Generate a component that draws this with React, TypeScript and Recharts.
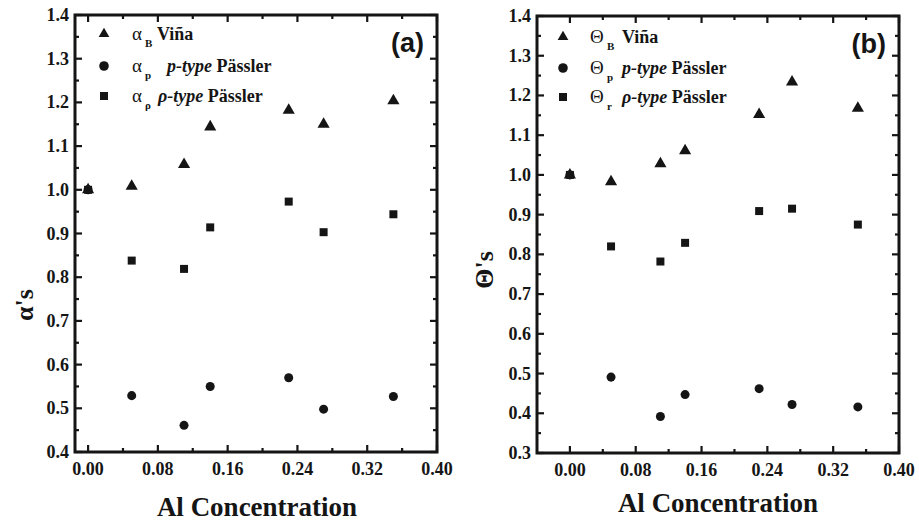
import React from 'react';
import { ScatterChart, Scatter, XAxis, YAxis, ReferenceArea, Legend, Symbols } from 'recharts';

// Al concentration (x)
const alConc = [0, 0.05, 0.11, 0.14, 0.23, 0.27, 0.35];

// panel (a): alpha's
const alphaB = [1.0, 1.008, 1.058, 1.144, 1.182, 1.15, 1.204];
const alphaP = [1.0, 0.529, 0.461, 0.55, 0.57, 0.498, 0.527];
const alphaRho = [1.0, 0.838, 0.819, 0.914, 0.973, 0.903, 0.944];

// panel (b): Theta's
const thetaB = [1.0, 0.983, 1.028, 1.061, 1.152, 1.234, 1.168];
const thetaP = [1.0, 0.491, 0.392, 0.447, 0.462, 0.422, 0.416];
const thetaR = [1.0, 0.82, 0.782, 0.829, 0.909, 0.915, 0.875];

const xTicks = [0, 0.04, 0.08, 0.12, 0.16, 0.2, 0.24, 0.28, 0.32, 0.36, 0.4];
const xMajor = [0, 0.08, 0.16, 0.24, 0.32, 0.4];
const yTicksA = [0.4, 0.45, 0.5, 0.55, 0.6, 0.65, 0.7, 0.75, 0.8, 0.85, 0.9, 0.95, 1.0, 1.05, 1.1, 1.15, 1.2, 1.25, 1.3, 1.35, 1.4];
const yTicksB = [0.3, 0.35, 0.4, 0.45, 0.5, 0.55, 0.6, 0.65, 0.7, 0.75, 0.8, 0.85, 0.9, 0.95, 1.0, 1.05, 1.1, 1.15, 1.2, 1.25, 1.3, 1.35, 1.4];

const toPoints = (ys: number[]) => alConc.map((x, i) => ({ x, y: ys[i] }));

const SERIF = 'Liberation Serif';
const SANS = 'Liberation Sans';
const INK = '#151515';

const isMajorY = (v: number) => Math.abs(v * 10 - Math.round(v * 10)) < 1e-6;

type PanelProps = {
  width: number;
  height: number;
  margin: { top: number; right: number; bottom: number; left: number };
  xDomain: [number, number];
  yDomain: [number, number];
  yTicks: number[];
  series: { name: string; data: number[]; shape: 'triangle' | 'circle' | 'square'; size: number }[];
  sym: string;
  subs: string[];
  typeLabels: string[];
  legendX: { marker: number; sym: number; sub: number; text: number[] };
  legendRows: number[];
  tag: string;
  tagPos: [number, number];
  yTitle: string;
  yTitlePos: [number, number];
  xTitlePos: [number, number];
};

function Panel(p: PanelProps) {
  const plotRight = p.width - p.margin.right;
  const plotTop = p.margin.top;

  // inward ticks on left + mirrored on right
  const YTick = (props: any) => {
    const { x, y, payload } = props;
    const major = isMajorY(payload.value);
    const len = major ? 7 : 4;
    return (
      <g>
        <line x1={x} x2={x + len} y1={y} y2={y} stroke={INK} strokeWidth={2.2} />
        <line x1={plotRight - len} x2={plotRight} y1={y} y2={y} stroke={INK} strokeWidth={2.2} />
        {major && (
          <text x={x - 6} y={y} dy={6} textAnchor="end" fontFamily={SERIF} fontWeight="bold" fontSize={18} fill={INK}>
            {payload.value.toFixed(1)}
          </text>
        )}
      </g>
    );
  };

  // inward ticks on bottom + mirrored on top
  const XTick = (props: any) => {
    const { x, y, payload } = props;
    const major = xMajor.includes(payload.value);
    const len = major ? 7 : 4;
    return (
      <g>
        <line x1={x} x2={x} y1={y} y2={y - len} stroke={INK} strokeWidth={2.2} />
        <line x1={x} x2={x} y1={plotTop} y2={plotTop + len} stroke={INK} strokeWidth={2.2} />
        {major && (
          <text x={x} y={y + 23} textAnchor="middle" fontFamily={SERIF} fontWeight="bold" fontSize={18} fill={INK}>
            {payload.value.toFixed(2)}
          </text>
        )}
      </g>
    );
  };

  const legendContent = () => (
    <svg width={p.width} height={p.height} style={{ overflow: 'visible' }}>
      {p.series.map((s, i) => {
        const cy = p.legendRows[i];
        return (
          <g key={s.name}>
            <Symbols type={s.shape} size={s.size} cx={p.legendX.marker} cy={cy} fill={INK} />
            <text x={p.legendX.sym} y={cy + 6} fontFamily={SERIF} fontSize={19} fill={INK}>
              {p.sym}
            </text>
            <text x={p.legendX.sub} y={cy + 13} fontFamily={SERIF} fontWeight="bold" fontSize={11} fill={INK}>
              {p.subs[i]}
            </text>
            <text x={p.legendX.text[i]} y={cy + 6} fontFamily={SERIF} fontWeight="bold" fontSize={18} fill={INK}>
              {p.typeLabels[i] ? (
                <>
                  <tspan fontStyle="italic">{p.typeLabels[i]}</tspan>
                  <tspan> Pässler</tspan>
                </>
              ) : (
                'Viña'
              )}
            </text>
          </g>
        );
      })}
      <text x={p.tagPos[0]} y={p.tagPos[1]} textAnchor="end" fontFamily={SANS} fontWeight="bold" fontSize={27} fill={INK}>
        {p.tag}
      </text>
      <text
        x={p.yTitlePos[0]}
        y={p.yTitlePos[1]}
        transform={`rotate(-90 ${p.yTitlePos[0]} ${p.yTitlePos[1]})`}
        textAnchor="middle"
        dy={9}
        fontFamily={SERIF}
        fontWeight="bold"
        fontSize={26}
        fill={INK}
      >
        {p.yTitle}
      </text>
      <text x={p.xTitlePos[0]} y={p.xTitlePos[1]} textAnchor="middle" fontFamily={SERIF} fontWeight="bold" fontSize={27} fill={INK}>
        Al Concentration
      </text>
    </svg>
  );

  return (
    <ScatterChart width={p.width} height={p.height} margin={p.margin}>
      <XAxis
        type="number"
        dataKey="x"
        domain={p.xDomain}
        ticks={xTicks}
        interval={0}
        allowDataOverflow
        axisLine={false}
        tickLine={false}
        tickSize={0}
        tickMargin={0}
        height={30}
        tick={XTick}
      />
      <YAxis
        type="number"
        dataKey="y"
        domain={p.yDomain}
        ticks={p.yTicks}
        interval={0}
        allowDataOverflow
        axisLine={false}
        tickLine={false}
        tickSize={0}
        tickMargin={0}
        width={60}
        tick={YTick}
      />
      <ReferenceArea
        x1={p.xDomain[0]}
        x2={p.xDomain[1]}
        y1={p.yDomain[0]}
        y2={p.yDomain[1]}
        fill="none"
        fillOpacity={0}
        stroke={INK}
        strokeWidth={3}
      />
      {p.series.map((s) => (
        <Scatter
          key={s.name}
          name={s.name}
          data={toPoints(s.data)}
          shape={s.shape}
          fill={INK}
          legendType={s.shape}
          isAnimationActive={false}
        />
      ))}
      <Legend
        layout="vertical"
        align="center"
        verticalAlign="middle"
        content={legendContent}
        wrapperStyle={{ position: 'absolute', left: 0, top: 0, bottom: 'auto', width: p.width, height: p.height, pointerEvents: 'none' }}
      />
    </ScatterChart>
  );
}

export default function App() {
  return (
    <div style={{ position: 'absolute', left: 0, top: 0, width: 919, height: 524, background: '#fff', display: 'flex' }}>
      <Panel
        width={460}
        height={524}
        margin={{ top: 15, right: 23, bottom: 42, left: 15 }}
        xDomain={[-0.015, 0.4]}
        yDomain={[0.4, 1.4]}
        yTicks={yTicksA}
        series={[
          { name: 'αB Viña', data: alphaB, shape: 'triangle', size: 50 },
          { name: 'αp p-type Pässler', data: alphaP, shape: 'circle', size: 72 },
          { name: 'αρ ρ-type Pässler', data: alphaRho, shape: 'square', size: 64 },
        ]}
        sym="α"
        subs={['B', 'p', 'ρ']}
        typeLabels={['', 'p-type', 'ρ-type']}
        legendX={{ marker: 104, sym: 132, sub: 145, text: [157, 167, 158] }}
        legendRows={[34, 66, 96]}
        tag="(a)"
        tagPos={[424, 52]}
        yTitle="α's"
        yTitlePos={[24, 305]}
        xTitlePos={[257, 516]}
      />
      <Panel
        width={459}
        height={524}
        margin={{ top: 16, right: 20, bottom: 41, left: 17 }}
        xDomain={[-0.04, 0.4]}
        yDomain={[0.3, 1.4]}
        yTicks={yTicksB}
        series={[
          { name: 'ΘB Viña', data: thetaB, shape: 'triangle', size: 50 },
          { name: 'Θp p-type Pässler', data: thetaP, shape: 'circle', size: 72 },
          { name: 'Θr ρ-type Pässler', data: thetaR, shape: 'square', size: 64 },
        ]}
        sym="Θ"
        subs={['B', 'p', 'r']}
        typeLabels={['', 'p-type', 'ρ-type']}
        legendX={{ marker: 103, sym: 130, sub: 147, text: [162, 162, 162] }}
        legendRows={[37, 68, 97]}
        tag="(b)"
        tagPos={[426, 53]}
        yTitle="Θ's"
        yTitlePos={[24, 270]}
        xTitlePos={[258, 512]}
      />
    </div>
  );
}
